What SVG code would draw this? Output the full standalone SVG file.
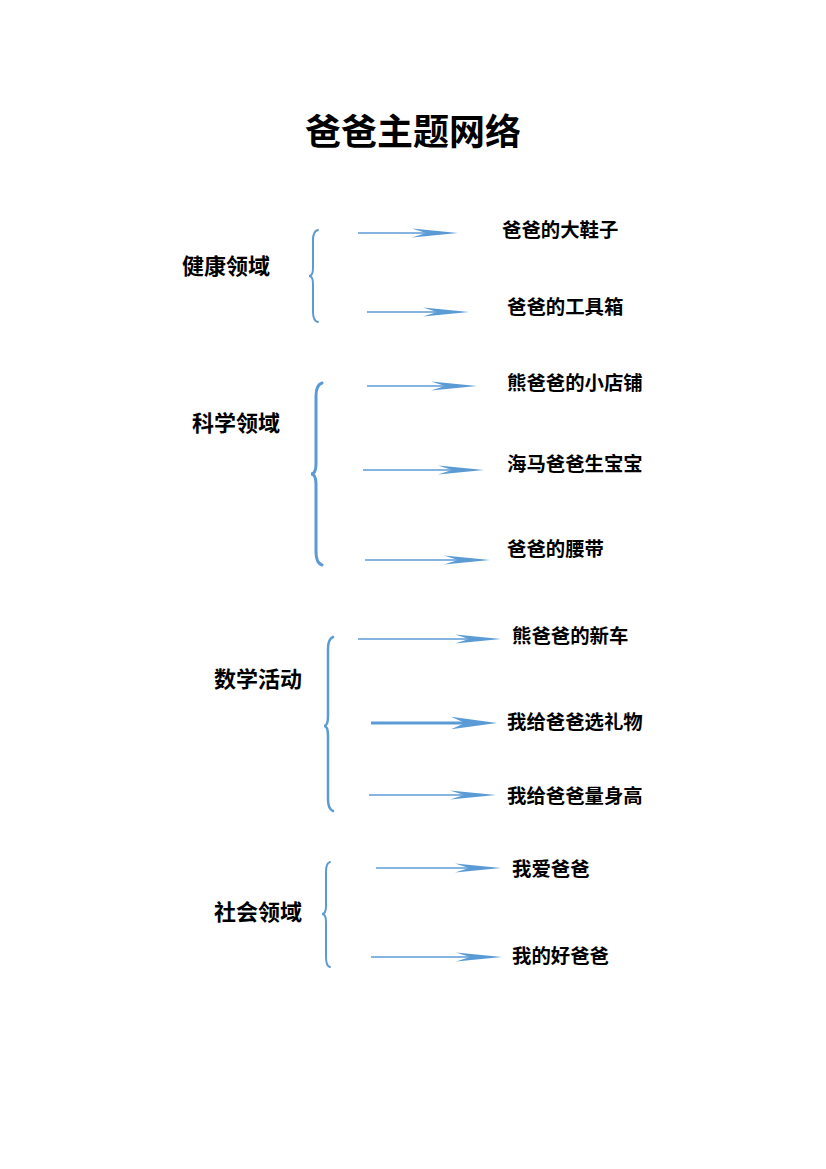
<svg xmlns="http://www.w3.org/2000/svg" width="826" height="1169" viewBox="0 0 826 1169">
<style>
text{font-family:"Noto Sans CJK SC","Noto Sans CJK JP",sans-serif;font-weight:bold;fill:#000}
.title{font-size:36px}
.cat{font-size:22px}
.item{font-size:19.4px}
.brace{fill:none;stroke:#5b9bd5;stroke-width:2;stroke-linecap:round}
.ln{stroke:#5b9bd5;stroke-width:1.6}
.hd{fill:#5b9bd5}
</style>
<defs>
<path id="head" d="M0,0 L-46,-4.5 L-32,0 L-46,4.5 Z"/>
</defs>
<rect width="826" height="1169" fill="#fff"/>
<text class="title" x="413" y="145" text-anchor="middle">爸爸主题网络</text>

<g id="health">
<text class="cat" x="182" y="274">健康领域</text>
<path class="brace" d="M318,230 Q313,231 313,240 L313,268 Q313,276 309,276 Q313,276 313,284 L313,312 Q313,321 318,322"/>
</g>
<g id="science">
<text class="cat" x="192" y="431">科学领域</text>
<path class="brace" style="stroke-width:3" d="M322,383 Q316,385 316,396 L316,464 Q316,474 311,474 Q316,474 316,484 L316,552 Q316,563 322,565"/>
</g>
<g id="math">
<text class="cat" x="214" y="687">数学活动</text>
<path class="brace" style="stroke-width:2.5" d="M333,637 Q328,639 328,649 L328,716 Q328,726 324,726 Q328,726 328,736 L328,799 Q328,809 333,811"/>
</g>
<g id="social">
<text class="cat" x="214" y="920">社会领域</text>
<path class="brace" d="M330,862 Q326,863 326,872 L326,906 Q326,914 322,914 Q326,914 326,922 L326,957 Q326,966 330,967"/>
</g>

<g id="items">
<text class="item" x="502" y="237">爸爸的大鞋子</text>
<text class="item" x="507" y="314">爸爸的工具箱</text>
<text class="item" x="507" y="390">熊爸爸的小店铺</text>
<text class="item" x="507" y="471">海马爸爸生宝宝</text>
<text class="item" x="507" y="556">爸爸的腰带</text>
<text class="item" x="512" y="643">熊爸爸的新车</text>
<text class="item" x="507" y="729">我给爸爸选礼物</text>
<text class="item" x="507" y="803">我给爸爸量身高</text>
<text class="item" x="512" y="876">我爱爸爸</text>
<text class="item" x="512" y="963">我的好爸爸</text>
</g>

<g id="connectors">
<line class="ln" x1="358" y1="233" x2="428" y2="233"/><use class="hd" href="#head" transform="translate(458,233)"/>
<line class="ln" x1="367" y1="312" x2="439" y2="312"/><use class="hd" href="#head" transform="translate(469,312)"/>
<line class="ln" x1="367" y1="386" x2="447" y2="386"/><use class="hd" href="#head" transform="translate(477,386)"/>
<line class="ln" x1="363" y1="470" x2="454" y2="470"/><use class="hd" href="#head" transform="translate(484,470)"/>
<line class="ln" x1="365" y1="560" x2="460" y2="560"/><use class="hd" href="#head" transform="translate(490,560)"/>
<line class="ln" x1="358" y1="639" x2="471" y2="639"/><use class="hd" href="#head" transform="translate(501,639)"/>
<line class="ln" style="stroke-width:3" x1="371" y1="723" x2="467" y2="723"/><use class="hd" href="#head" transform="translate(497,723) scale(1,1.4)"/>
<line class="ln" x1="369" y1="795" x2="466" y2="795"/><use class="hd" href="#head" transform="translate(496,795)"/>
<line class="ln" x1="376" y1="868" x2="471" y2="868"/><use class="hd" href="#head" transform="translate(501,868)"/>
<line class="ln" x1="371" y1="957" x2="472" y2="957"/><use class="hd" href="#head" transform="translate(502,957)"/>
</g>
</svg>
